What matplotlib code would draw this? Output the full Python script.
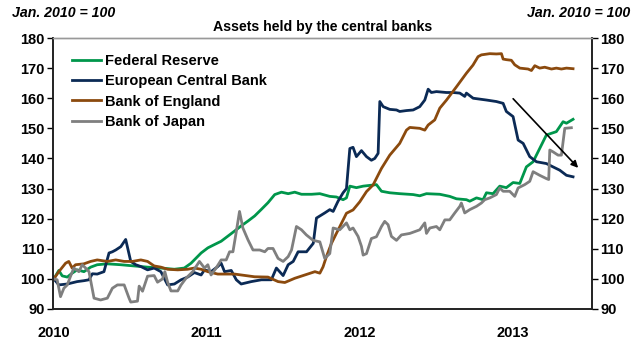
import numpy as np
import matplotlib
matplotlib.use("Agg")
import matplotlib.pyplot as plt

plt.rcParams['font.family'] = ['Liberation Sans', 'DejaVu Sans']
plt.rcParams['font.weight'] = 'bold'

# time is years after Jan. 2010, values indexed Jan. 2010 = 100
fed_t = [0, .033, .055, .088, .120, .153, .197, .241, .284, .350, .438, .525, .613, .700, .788, .853, .897,
         .963, 1.007, 1.050, 1.094, 1.138, 1.182, 1.225, 1.269, 1.313, 1.357, 1.400, 1.444, 1.488, 1.532,
         1.575, 1.619, 1.685, 1.739, 1.804, 1.847, 1.891, 1.913, 1.935, 1.978, 2.022, 2.109, 2.142, 2.196,
         2.261, 2.349, 2.392, 2.436, 2.523, 2.588, 2.632, 2.697, 2.719, 2.763, 2.806, 2.828, 2.871, 2.915,
         2.958, 3.002, 3.046, 3.089, 3.133, 3.176, 3.220, 3.285, 3.329, 3.351, 3.394]
fed_v = [100, 102.8, 101, 100.6, 101.9, 103, 102.4, 103.9, 104.7, 105, 104.7, 104.3, 103.9, 103.6, 103.2,
         103.6, 105.2, 108.6, 110.3, 111.4, 112.5, 114.2, 115.9, 117.6, 119.2, 120.9, 123.1, 125.3, 128,
         128.8, 128.3, 128.8, 128.1, 128.1, 128.3, 127.4, 127.2, 126.3, 126.9, 130.8, 130.3, 130.8, 131.3,
         129.1, 128.6, 128.3, 128, 127.6, 128.3, 128.1, 127.4, 126.6, 126.3, 125.8, 126.9, 126.3, 128.6,
         128.3, 130.8, 130.3, 132, 131.7, 137.2, 138.9, 143.3, 147.8, 148.9, 152.2, 151.7, 153]

ecb_t = [0, .033, .088, .153, .197, .230, .252, .284, .328, .361, .383, .405, .438, .470, .503, .536, .569,
         .613, .656, .700, .722, .744, .788, .832, .875, .919, .963, .985, 1.028, 1.072, 1.094, 1.116, 1.160,
         1.193, 1.225, 1.291, 1.357, 1.422, 1.455, 1.499, 1.532, 1.565, 1.597, 1.652, 1.696, 1.717, 1.771,
         1.804, 1.826, 1.858, 1.891, 1.913, 1.935, 1.956, 1.978, 2.011, 2.044, 2.076, 2.098, 2.120, 2.131,
         2.153, 2.196, 2.240, 2.261, 2.305, 2.349, 2.392, 2.425, 2.447, 2.468, 2.501, 2.566, 2.610, 2.654,
         2.686, 2.697, 2.741, 2.828, 2.893, 2.937, 2.958, 3.002, 3.035, 3.068, 3.111, 3.155, 3.220, 3.263,
         3.307, 3.351, 3.394]
ecb_v = [100, 98, 98.3, 99.1, 99.4, 99.7, 101.7, 101.6, 102.4, 108.6, 109, 109.6, 110.7, 113.1, 105.8, 104.7,
         104.1, 103, 103.6, 102.4, 100.2, 98, 98.3, 99.7, 100.6, 102.1, 101.3, 103, 102.4, 104.1, 105.2, 102.4,
         102.8, 99.7, 98.3, 99.1, 99.7, 99.7, 103.6, 101.1, 104.7, 105.8, 109, 109, 111.8, 120.2, 121.9, 123,
         122.4, 125.8, 128.6, 130, 143.3, 143.7, 140.6, 142.6, 140.6, 139.4, 140, 141.7, 158.9, 157.2, 156.3,
         156.1, 155.6, 155.9, 156.1, 157.2, 159.4, 163, 161.9, 162.2, 161.9, 161.9, 161.7, 160.6, 161.7, 160,
         159.4, 158.9, 158.3, 155.6, 153.9, 146.1, 145, 140.6, 138.9, 138.3, 137.2, 136.1, 134.4, 133.9]

boe_t = [0, .033, .077, .098, .120, .142, .197, .241, .284, .350, .405, .460, .514, .569, .613, .656, .700,
         .744, .810, .875, .919, .963, 1.007, 1.072, 1.182, 1.225, 1.313, 1.400, 1.466, 1.510, 1.575, 1.641,
         1.707, 1.739, 1.760, 1.782, 1.815, 1.847, 1.869, 1.913, 1.956, 2.0, 2.044, 2.087, 2.142, 2.196, 2.261,
         2.305, 2.327, 2.392, 2.425, 2.447, 2.490, 2.523, 2.567, 2.632, 2.697, 2.740, 2.773, 2.795, 2.850,
         2.893, 2.926, 2.937, 2.959, 2.991, 3.013, 3.046, 3.100, 3.122, 3.144, 3.176, 3.209, 3.253, 3.285,
         3.318, 3.351, 3.394]
boe_v = [100, 102.4, 105.2, 105.8, 103.6, 104.7, 105, 105.8, 106.3, 105.8, 106.3, 105.8, 105.8, 106.3, 105.8,
         104.3, 103.9, 103.2, 103, 103.2, 103.6, 103.2, 102.4, 101.6, 101.6, 101.3, 100.7, 100.6, 99.1, 98.8,
         100.2, 101.3, 102.4, 101.9, 104, 107.4, 111.8, 115.1, 117.3, 121.8, 122.9, 125.6, 129, 131.2, 136.7,
         141.1, 145, 149.4, 150.3, 150, 149.4, 151.1, 152.8, 156.7, 159.4, 163.8, 168.3, 171, 173.8, 174.4,
         174.8, 174.7, 174.8, 173, 172.8, 172.6, 171.1, 170, 169.7, 169.2, 170.8, 170, 170.3, 169.7, 170,
         169.7, 170, 169.8]

boj_t = [0, .022, .044, .066, .088, .109, .131, .164, .186, .208, .230, .263, .306, .350, .383, .416, .460,
         .492, .503, .547, .558, .580, .613, .656, .678, .711, .726, .744, .766, .810, .832, .864, .908, .952,
         .985, 1.007, 1.028, 1.061, 1.094, 1.127, 1.149, 1.171, 1.193, 1.214, 1.236, 1.269, 1.302, 1.346,
         1.379, 1.400, 1.433, 1.466, 1.499, 1.532, 1.554, 1.586, 1.619, 1.651, 1.695, 1.739, 1.771, 1.804,
         1.826, 1.869, 1.913, 1.935, 1.956, 1.989, 2.011, 2.022, 2.044, 2.076, 2.109, 2.142, 2.163, 2.185,
         2.207, 2.240, 2.272, 2.327, 2.392, 2.425, 2.436, 2.458, 2.501, 2.523, 2.556, 2.588, 2.621, 2.654,
         2.664, 2.686, 2.719, 2.763, 2.795, 2.817, 2.850, 2.893, 2.915, 2.937, 2.980, 3.013, 3.035, 3.078,
         3.111, 3.133, 3.176, 3.220, 3.235, 3.242, 3.263, 3.296, 3.318, 3.340, 3.383]
boj_v = [100, 99.7, 94.1, 96.9, 98, 100.8, 103.6, 102.4, 104.7, 103.6, 102.4, 93.6, 93, 93.6, 96.9, 98, 98,
         93.6, 92.3, 92.6, 97.6, 95.9, 100.9, 101.1, 98.9, 100, 102.4, 98.9, 96, 96, 98, 100.2, 102.4, 105.8,
         103.6, 104.7, 101.3, 103.6, 106.3, 106.3, 109, 109, 115.7, 122.4, 116.9, 113, 109.6, 109.6, 109,
         110.1, 110.1, 106.8, 105.8, 107.4, 109.6, 117.4, 116.3, 114.6, 112.8, 112.3, 106.8, 108.4, 116.9,
         116.3, 118.6, 116.3, 116.9, 114.1, 110.8, 107.9, 108.4, 113.4, 114, 117.4, 119.1, 118, 114.1, 112.8,
         114.6, 115.1, 116.3, 118.6, 115.1, 116.9, 117.4, 116.3, 119.6, 119.6, 121.9, 124.1, 125.2, 121.9,
         123, 124.1, 125.2, 126.3, 126.9, 128, 130.2, 129.1, 129.1, 127.4, 130.2, 131.3, 132.4, 135.6, 134.4,
         133.3, 133, 142.8, 142.2, 141.1, 141.1, 150, 150.2]

names = ['Federal Reserve', 'European Central Bank', 'Bank of England', 'Bank of Japan']
colors = ['#00964B', '#0B2A55', '#8B4A0E', '#7F7F7F']
years = [2010, 2011, 2012, 2013]

fig = plt.figure(figsize=(6.35, 3.39), dpi=100)
ax = fig.add_axes([0.0835, 0.0885, 0.8488, 0.7994])

series = [(fed_t, fed_v), (ecb_t, ecb_v), (boe_t, boe_v), (boj_t, boj_v)]
for (t, v), name, c in zip(series, names, colors):
    ax.plot(np.array(t) + 2010, v, color=c, lw=2, label=name)

ax.set_xlim(2009.995, 2013.518)
ax.set_ylim(90, 180)
ax.set_yticks(range(90, 181, 10))
ax.set_xticks(years)
ax.set_xticklabels([str(y) for y in years])
ax.tick_params(axis='x', length=0, pad=12, labelsize=10.5)
ax.tick_params(axis='y', length=4, width=1, direction='out', labelsize=10.5, pad=2)

ax2 = ax.twinx()
ax2.set_ylim(90, 180)
ax2.set_yticks(range(90, 181, 10))
ax2.tick_params(axis='y', length=4, width=1, direction='out', labelsize=10.5, pad=2)

for a in (ax, ax2):
    for s in ('left', 'right', 'bottom'):
        a.spines[s].set_color('#222222')
        a.spines[s].set_linewidth(1.2)
    a.spines['top'].set_color('#999999')
    a.spines['top'].set_linewidth(1)

ax.annotate('', xy=(2013.44, 136.2), xytext=(2012.99, 160.5),
            arrowprops=dict(arrowstyle='-|>', color='black', lw=1.2, mutation_scale=10))

ax.legend(loc='upper left', bbox_to_anchor=(72 / 635, 1 - 54 / 339), bbox_transform=fig.transFigure,
          frameon=False, fontsize=10.5, handlelength=2.0, handletextpad=0.27, labelspacing=0.43,
          borderpad=0, borderaxespad=0)

fig.text(323 / 635, 1 - 27 / 339, 'Assets held by the central banks', ha='center', va='center',
         fontsize=10.2, fontweight='bold')
fig.text(12 / 635, 1 - 13 / 339, 'Jan. 2010 = 100', ha='left', va='center', fontsize=10.2,
         fontweight='bold', fontstyle='italic')
fig.text(630 / 635, 1 - 13 / 339, 'Jan. 2010 = 100', ha='right', va='center', fontsize=10.2,
         fontweight='bold', fontstyle='italic')

fig.savefig('out.png', dpi=100)
